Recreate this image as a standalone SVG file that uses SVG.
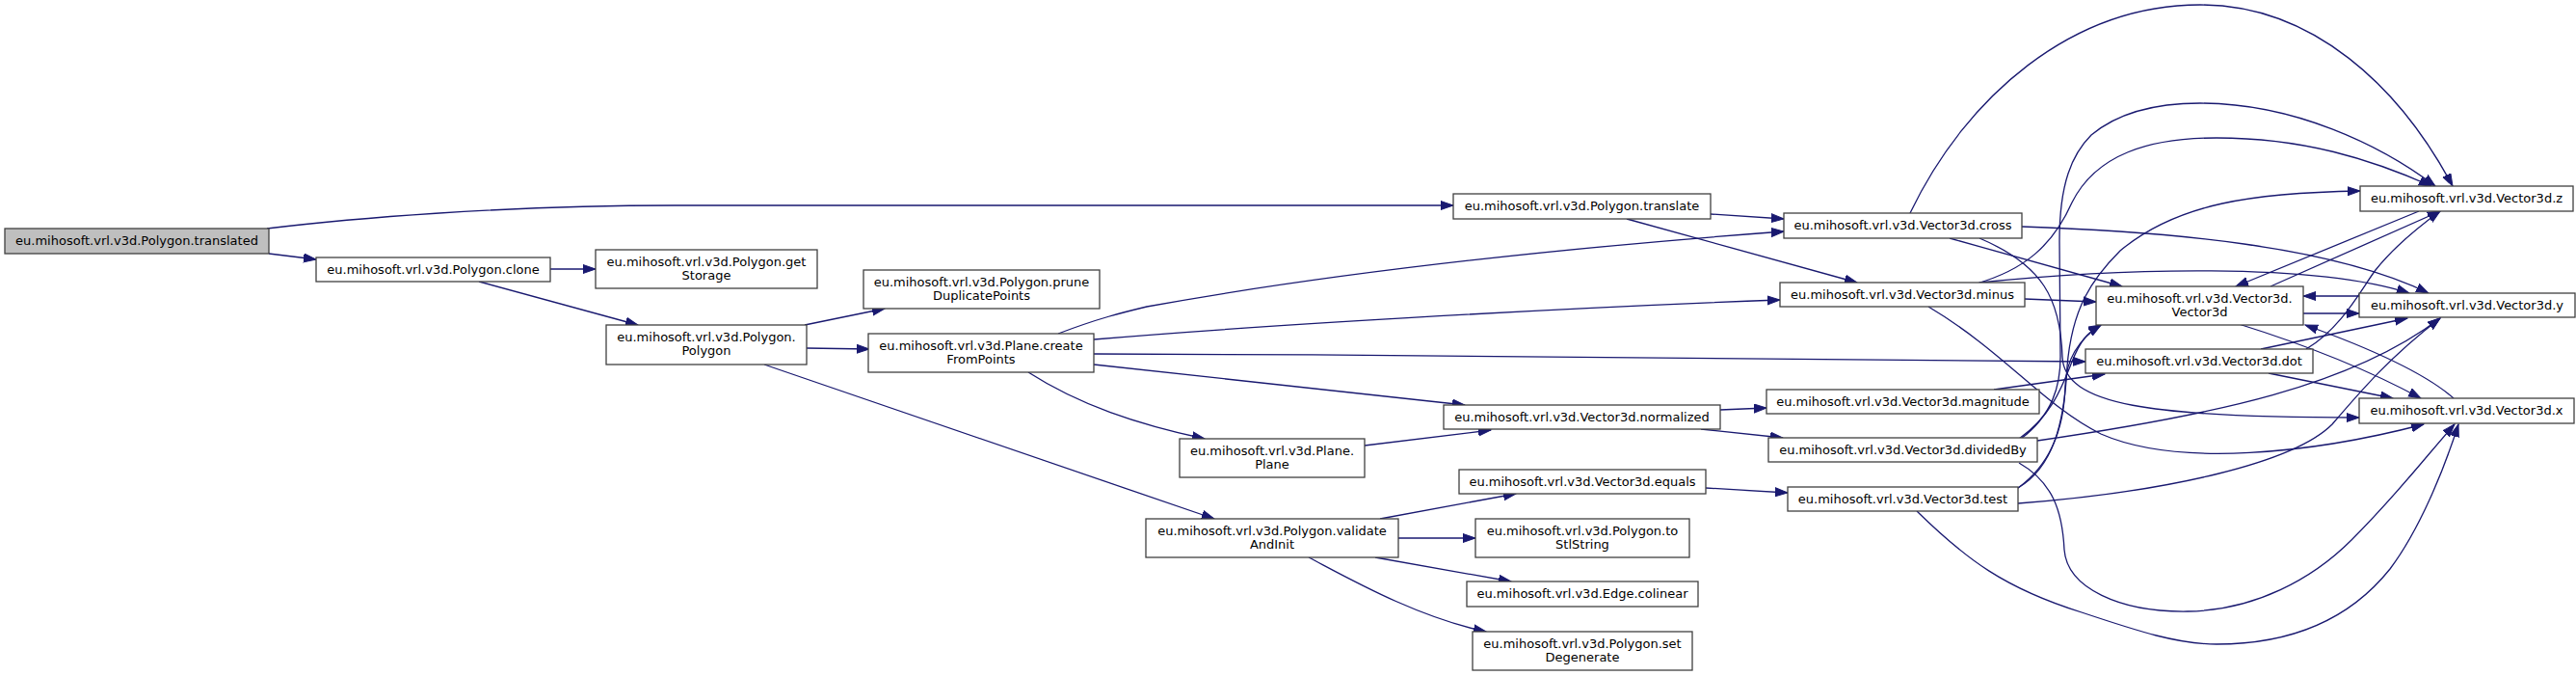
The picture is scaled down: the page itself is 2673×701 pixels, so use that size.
<svg xmlns="http://www.w3.org/2000/svg" width="2673" height="701" viewBox="0 0 2673 701">
<defs>
<marker id="ah" markerWidth="15" markerHeight="11" refX="13" refY="5" orient="auto" markerUnits="userSpaceOnUse">
<path d="M0,0.5 L13,5 L0,9.5 z" fill="#191970" stroke="#191970" stroke-width="1"/>
</marker>
<style>
.n rect{fill:#ffffff;stroke:#404040;stroke-width:1.3}
.n.root rect{fill:#bfbfbf}
.n text{font-family:"DejaVu Sans",Verdana,sans-serif;font-size:13px;text-anchor:middle;fill:#000000}
#edges path{fill:none;stroke:#191970;stroke-width:1.3;marker-end:url(#ah)}
</style>
</defs>
<rect x="0" y="0" width="2673" height="701" fill="#ffffff"/>
<g id="edges">
<path d="M279,263 L328,269"/>
<path d="M277,237 C360,227 520,213 700,213 L1508,213"/>
<path d="M571,279 L618,279"/>
<path d="M497,292 L662,337"/>
<path d="M835,337 L918,320"/>
<path d="M837,361 L902,362"/>
<path d="M793,378 L1260,538"/>
<path d="M1098,346 C1140,330 1165,324 1190,318 C1400,280 1650,255 1851,240"/>
<path d="M1135,352 C1300,338 1600,320 1847,311"/>
<path d="M1135,367 C1500,368 1900,372 2164,375"/>
<path d="M1135,378 L1520,420"/>
<path d="M1067,386 C1120,420 1180,440 1250,455"/>
<path d="M1416,462 L1547,446"/>
<path d="M1432,538 L1573,512"/>
<path d="M1451,558 L1531,558"/>
<path d="M1427,578 L1568,603"/>
<path d="M1358,578 C1400,600 1470,640 1542,655"/>
<path d="M1775,222 L1851,227"/>
<path d="M1688,227 L1927,293"/>
<path d="M1785,425 L1833,423"/>
<path d="M1765,445 L1850,454"/>
<path d="M1770,506 L1855,511"/>
<path d="M1982,221 C2040,100 2150,5 2283,5 C2400,5 2490,90 2545,193"/>
<path d="M2098,235 C2250,240 2420,255 2520,304"/>
<path d="M2023,247 L2202,297"/>
<path d="M2054,247 C2120,275 2138,310 2140,370 C2142,420 2230,433 2448,433"/>
<path d="M2051,294 C2100,280 2130,255 2150,210 C2175,160 2230,143 2300,143 C2390,143 2460,165 2523,193"/>
<path d="M2054,293 C2200,278 2400,272 2500,304"/>
<path d="M2101,310 L2175,313"/>
<path d="M2001,318 C2080,365 2120,420 2180,450 C2260,485 2400,470 2515,440"/>
<path d="M2069,404 L2184,388"/>
<path d="M2095,455 C2130,430 2140,400 2150,375 C2158,355 2165,345 2180,337"/>
<path d="M2094,506 C2130,480 2142,440 2143,400 C2144,370 2160,350 2180,337"/>
<path d="M2097,455 C2130,430 2138,400 2138,370 L2137,250 C2137,190 2150,160 2170,140 C2200,115 2240,107 2283,107 C2380,107 2470,150 2527,193"/>
<path d="M2094,506 C2130,485 2142,440 2145,380 C2150,320 2170,290 2200,260 C2260,210 2340,200 2449,198"/>
<path d="M2114,457 C2300,430 2440,400 2532,330"/>
<path d="M2094,522 C2250,510 2380,480 2420,440 C2450,405 2480,370 2532,330"/>
<path d="M2346,362 L2498,330"/>
<path d="M2393,362 C2430,340 2450,300 2465,280 C2485,255 2510,235 2532,219"/>
<path d="M2354,387 L2483,413"/>
<path d="M2356,297 L2532,219"/>
<path d="M2510,219 L2320,297"/>
<path d="M2448,307 L2390,307"/>
<path d="M2390,325 L2448,325"/>
<path d="M2323,336 C2400,360 2460,385 2512,413"/>
<path d="M2546,413 C2520,390 2470,365 2392,337"/>
<path d="M2095,480 C2130,500 2140,530 2142,570 C2145,610 2200,635 2270,634 C2340,633 2400,600 2440,560 C2490,510 2520,470 2547,440"/>
<path d="M1989,530 C2040,580 2080,610 2160,635 C2220,655 2260,668 2300,668 C2380,668 2440,640 2480,590 C2510,550 2535,490 2551,440"/>
</g>
<g id="n_translated" class="n root"><rect x="5" y="237" width="274" height="26"/><text x="142" y="254">eu.mihosoft.vrl.v3d.Polygon.translated</text></g>
<g id="n_clone" class="n"><rect x="328" y="267" width="243" height="25"/><text x="449.5" y="284">eu.mihosoft.vrl.v3d.Polygon.clone</text></g>
<g id="n_getStorage" class="n"><rect x="618" y="259" width="230" height="40"/><text x="733" y="276">eu.mihosoft.vrl.v3d.Polygon.get</text><text x="733" y="290">Storage</text></g>
<g id="n_polygon" class="n"><rect x="629" y="337" width="208" height="41"/><text x="733" y="354">eu.mihosoft.vrl.v3d.Polygon.</text><text x="733" y="368">Polygon</text></g>
<g id="n_prune" class="n"><rect x="896" y="280" width="245" height="40"/><text x="1018.5" y="297">eu.mihosoft.vrl.v3d.Polygon.prune</text><text x="1018.5" y="311">DuplicatePoints</text></g>
<g id="n_createFromPoints" class="n"><rect x="901" y="346" width="234" height="40"/><text x="1018" y="363">eu.mihosoft.vrl.v3d.Plane.create</text><text x="1018" y="377">FromPoints</text></g>
<g id="n_plane" class="n"><rect x="1224" y="455" width="192" height="40"/><text x="1320" y="472">eu.mihosoft.vrl.v3d.Plane.</text><text x="1320" y="486">Plane</text></g>
<g id="n_validateAndInit" class="n"><rect x="1189" y="538" width="262" height="40"/><text x="1320" y="555">eu.mihosoft.vrl.v3d.Polygon.validate</text><text x="1320" y="569">AndInit</text></g>
<g id="n_translate" class="n"><rect x="1508" y="201" width="267" height="26"/><text x="1641.5" y="218">eu.mihosoft.vrl.v3d.Polygon.translate</text></g>
<g id="n_normalized" class="n"><rect x="1498" y="420" width="287" height="25"/><text x="1641.5" y="437">eu.mihosoft.vrl.v3d.Vector3d.normalized</text></g>
<g id="n_equals" class="n"><rect x="1514" y="487" width="256" height="25"/><text x="1642" y="504">eu.mihosoft.vrl.v3d.Vector3d.equals</text></g>
<g id="n_toStlString" class="n"><rect x="1531" y="538" width="222" height="40"/><text x="1642" y="555">eu.mihosoft.vrl.v3d.Polygon.to</text><text x="1642" y="569">StlString</text></g>
<g id="n_colinear" class="n"><rect x="1522" y="603" width="240" height="26"/><text x="1642" y="620">eu.mihosoft.vrl.v3d.Edge.colinear</text></g>
<g id="n_setDegenerate" class="n"><rect x="1528" y="655" width="228" height="40"/><text x="1642" y="672">eu.mihosoft.vrl.v3d.Polygon.set</text><text x="1642" y="686">Degenerate</text></g>
<g id="n_cross" class="n"><rect x="1851" y="221" width="247" height="26"/><text x="1974.5" y="238">eu.mihosoft.vrl.v3d.Vector3d.cross</text></g>
<g id="n_minus" class="n"><rect x="1847" y="293" width="254" height="25"/><text x="1974" y="310">eu.mihosoft.vrl.v3d.Vector3d.minus</text></g>
<g id="n_magnitude" class="n"><rect x="1833" y="404" width="283" height="25"/><text x="1974.5" y="421">eu.mihosoft.vrl.v3d.Vector3d.magnitude</text></g>
<g id="n_dividedBy" class="n"><rect x="1835" y="454" width="279" height="25"/><text x="1974.5" y="471">eu.mihosoft.vrl.v3d.Vector3d.dividedBy</text></g>
<g id="n_test" class="n"><rect x="1855" y="505" width="239" height="25"/><text x="1974.5" y="522">eu.mihosoft.vrl.v3d.Vector3d.test</text></g>
<g id="n_vector3d" class="n"><rect x="2175" y="297" width="215" height="40"/><text x="2282.5" y="314">eu.mihosoft.vrl.v3d.Vector3d.</text><text x="2282.5" y="328">Vector3d</text></g>
<g id="n_dot" class="n"><rect x="2164" y="362" width="236" height="25"/><text x="2282" y="379">eu.mihosoft.vrl.v3d.Vector3d.dot</text></g>
<g id="n_z" class="n"><rect x="2449" y="193" width="221" height="26"/><text x="2559.5" y="210">eu.mihosoft.vrl.v3d.Vector3d.z</text></g>
<g id="n_y" class="n"><rect x="2448" y="304" width="224" height="25"/><text x="2560" y="321">eu.mihosoft.vrl.v3d.Vector3d.y</text></g>
<g id="n_x" class="n"><rect x="2448" y="413" width="223" height="26"/><text x="2559.5" y="430">eu.mihosoft.vrl.v3d.Vector3d.x</text></g>
</svg>
